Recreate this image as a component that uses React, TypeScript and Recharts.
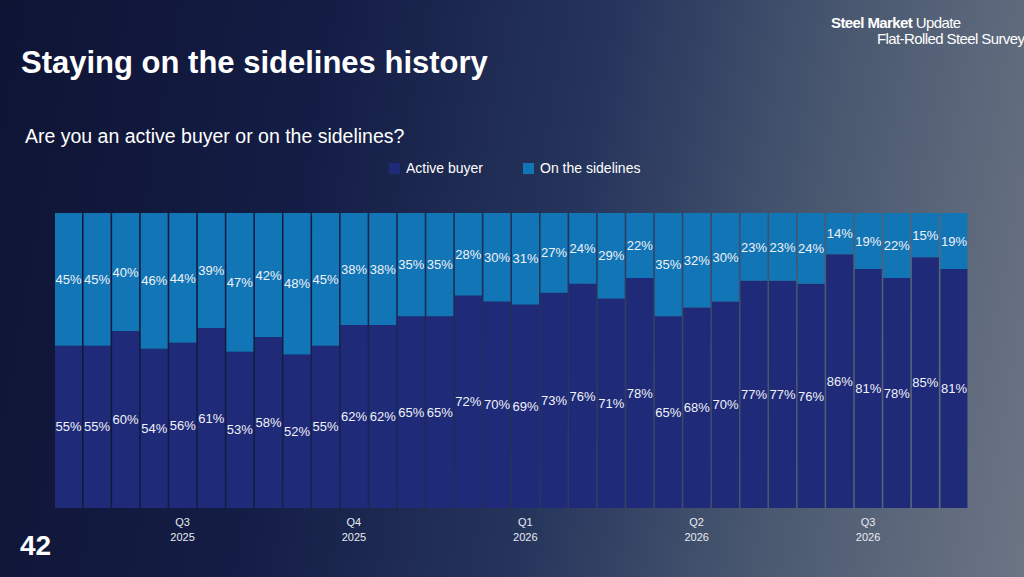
import React from 'react';
import { BarChart, Bar, XAxis, YAxis, LabelList } from 'recharts';

const activeBuyer = [55, 55, 60, 54, 56, 61, 53, 58, 52, 55, 62, 62, 65, 65, 72, 70, 69, 73, 76, 71, 78, 65, 68, 70, 77, 77, 76, 86, 81, 78, 85, 81];
const sidelines = [45, 45, 40, 46, 44, 39, 47, 42, 48, 45, 38, 38, 35, 35, 28, 30, 31, 27, 24, 29, 22, 35, 32, 30, 23, 23, 24, 14, 19, 22, 15, 19];
// quarter labels sit under every sixth survey, starting at the fifth
const quarterTicks: Record<number, [string, string]> = {
  4: ['Q3', '2025'],
  10: ['Q4', '2025'],
  16: ['Q1', '2026'],
  22: ['Q2', '2026'],
  28: ['Q3', '2026'],
};

const data = activeBuyer.map((a, i) => ({ idx: i, active: a, side: sidelines[i] }));

const font = 'Helvetica, "Liberation Sans", Arial, sans-serif';

const QuarterTick = (props: any) => {
  const { x, y, payload } = props;
  const t = quarterTicks[payload.value];
  if (!t) return null;
  return (
    <g>
      <text x={x} y={y + 10} textAnchor="middle" fill="#e8eaf2" fontSize={11} fontFamily={font}>{t[0]}</text>
      <text x={x} y={y + 25} textAnchor="middle" fill="#e8eaf2" fontSize={11} fontFamily={font}>{t[1]}</text>
    </g>
  );
};

const pct = (v: any) => `${v}%`;

export default function App() {
  return (
    <div style={{ position: 'fixed', left: 0, top: 0, width: 1024, height: 577, overflow: 'hidden', fontFamily: font,
      background: 'linear-gradient(100deg, #0e1434 0%, #141d45 30%, #26355c 55%, #48576f 75%, #6c7584 100%)' }}>
      <div style={{ position: 'absolute', left: 21, top: 45, color: '#fff', fontSize: 31, fontWeight: 'bold' }}>Staying on the sidelines history</div>
      <div style={{ position: 'absolute', left: 25, top: 125, color: '#fff', fontSize: 19.5 }}>Are you an active buyer or on the sidelines?</div>
      <div style={{ position: 'absolute', left: 831, top: 15, color: '#fff', fontSize: 15, lineHeight: '16px', letterSpacing: -0.6, whiteSpace: 'nowrap' }}>
        <b>Steel Market</b> Update<br /><span style={{ marginLeft: 46 }}>Flat-Rolled Steel Survey</span>
      </div>
      <div style={{ position: 'absolute', left: 389, top: 160, color: '#fff', fontSize: 14, display: 'flex', alignItems: 'center' }}>
        <span style={{ width: 11, height: 11, background: '#1f2a78', marginRight: 6 }} />Active buyer
        <span style={{ width: 11, height: 11, background: '#1275b5', marginLeft: 40, marginRight: 6 }} />On the sidelines
      </div>
      <div style={{ position: 'absolute', left: 20, top: 530, color: '#fff', fontSize: 28, fontWeight: 'bold' }}>42</div>
      <div style={{ position: 'absolute', left: 0, top: 0 }}>
        <BarChart width={1024} height={577} data={data} margin={{ top: 213, right: 56, bottom: 0, left: 54 }} barCategoryGap={1}>
          <XAxis dataKey="idx" interval={0} tick={<QuarterTick />} tickLine={false} axisLine={false} height={69} />
          <YAxis domain={[0, 100]} hide />
          <Bar dataKey="active" stackId="s" fill="#1f2a78" isAnimationActive={false}>
            <LabelList dataKey="active" position="center" formatter={pct} fill="#f0f2f8" fontSize={13} fontFamily={font} />
          </Bar>
          <Bar dataKey="side" stackId="s" fill="#1275b5" isAnimationActive={false}>
            <LabelList dataKey="side" position="center" formatter={pct} fill="#f0f2f8" fontSize={13} fontFamily={font} />
          </Bar>
        </BarChart>
      </div>
    </div>
  );
}
